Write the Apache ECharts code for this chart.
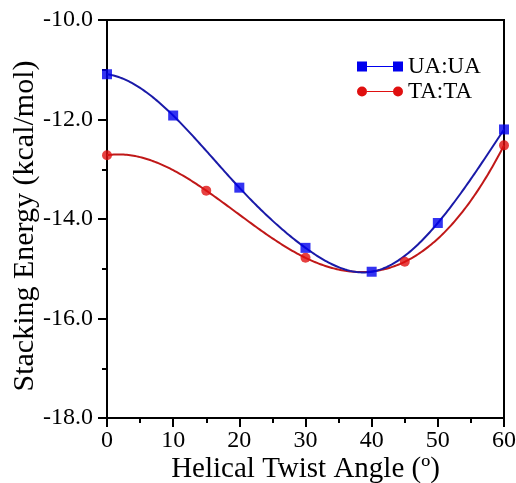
<!DOCTYPE html>
<html>
<head>
<meta charset="utf-8">
<script src="https://cdn.jsdelivr.net/npm/echarts@6/dist/echarts.min.js"></script>
<style>html,body{margin:0;padding:0;background:#fff}#c{width:516px;height:483px}</style>
</head>
<body>
<div id="c"></div>
<script>
const uaX = [0, 10, 20, 30, 40, 50, 60];
const uaY = [-11.09, -11.92, -13.37, -14.58, -15.06, -14.08, -12.20];
const taX = [0, 15, 30, 45, 60];
const taY = [-12.72, -13.43, -14.78, -14.86, -12.52];
const seriesNames = ['UA:UA', 'TA:TA'];
const xTitle = 'Helical Twist Angle (º)';
const yTitle = 'Stacking Energy (kcal/mol)';

const font = 'Liberation Serif, Times New Roman, serif';
const chart = echarts.init(document.getElementById('c'), null, {renderer: 'canvas'});
const zip = (xs, ys) => xs.map((x, i) => [x, ys[i]]);

function solve(A, b) {
  const n = b.length;
  for (let i = 0; i < n; i++) {
    let p = i;
    for (let r = i + 1; r < n; r++) if (Math.abs(A[r][i]) > Math.abs(A[p][i])) p = r;
    [A[i], A[p]] = [A[p], A[i]]; [b[i], b[p]] = [b[p], b[i]];
    for (let r = i + 1; r < n; r++) {
      const f = A[r][i] / A[i][i];
      for (let c = i; c < n; c++) A[r][c] -= f * A[i][c];
      b[r] -= f * b[i];
    }
  }
  const x = new Array(n).fill(0);
  for (let i = n - 1; i >= 0; i--) {
    let s = b[i];
    for (let c = i + 1; c < n; c++) s -= A[i][c] * x[c];
    x[i] = s / A[i][i];
  }
  return x;
}

// not-a-knot cubic spline through the data points (used only to draw the connecting curve)
function splineFn(xs, ys) {
  const n = xs.length, h = [];
  for (let i = 0; i < n - 1; i++) h.push(xs[i + 1] - xs[i]);
  const A = [], b = [];
  for (let i = 0; i < n; i++) { A.push(new Array(n).fill(0)); b.push(0); }
  A[0][0] = h[1]; A[0][1] = -(h[0] + h[1]); A[0][2] = h[0];
  for (let i = 1; i < n - 1; i++) {
    A[i][i - 1] = h[i - 1]; A[i][i] = 2 * (h[i - 1] + h[i]); A[i][i + 1] = h[i];
    b[i] = 6 * ((ys[i + 1] - ys[i]) / h[i] - (ys[i] - ys[i - 1]) / h[i - 1]);
  }
  A[n - 1][n - 3] = h[n - 2]; A[n - 1][n - 2] = -(h[n - 3] + h[n - 2]); A[n - 1][n - 1] = h[n - 3];
  const M = solve(A, b);
  return function (x) {
    let i = 0;
    while (i < n - 2 && x > xs[i + 1]) i++;
    const hi = h[i], a = xs[i + 1] - x, t = x - xs[i];
    return M[i] * a * a * a / (6 * hi) + M[i + 1] * t * t * t / (6 * hi)
      + (ys[i] / hi - M[i] * hi / 6) * a + (ys[i + 1] / hi - M[i + 1] * hi / 6) * t;
  };
}

function curveSeries(name, xs, ys, color, z) {
  const f = splineFn(xs, ys);
  return {
    name: name, type: 'custom', z: z, silent: true,
    data: zip(xs, ys),
    renderItem: function (params, api) {
      if (params.dataIndex !== 0) return null;
      const pts = [];
      const x0 = xs[0], x1 = xs[xs.length - 1], N = 240;
      for (let k = 0; k <= N; k++) {
        const x = x0 + (x1 - x0) * k / N;
        pts.push(api.coord([x, f(x)]));
      }
      return {type: 'polyline', shape: {points: pts}, style: {stroke: color, lineWidth: 2, fill: null}};
    }
  };
}

chart.setOption({
  animation: false,
  backgroundColor: '#fff',
  grid: {left: 107, right: 12, top: 20, bottom: 65, outerBoundsMode: 'none', containLabel: false,
         show: true, borderColor: '#000', borderWidth: 2, backgroundColor: 'transparent'},
  legend: {
    orient: 'vertical', left: 352, top: 50, itemGap: 2, itemWidth: 46, itemHeight: 10,
    textStyle: {fontFamily: font, fontSize: 23, color: '#000'},
    data: [
      {name: seriesNames[0], icon: 'path://M0,0h10v10h-10z M10,4.6h26v0.8h-26z M36,0h10v10h-10z', itemStyle: {color: '#0000ee'}},
      {name: seriesNames[1], icon: 'path://M0,5a5,5 0 1,0 10,0a5,5 0 1,0 -10,0z M10,4.6h26v0.8h-26z M36,5a5,5 0 1,0 10,0a5,5 0 1,0 -10,0z', itemStyle: {color: '#e01010'}}
    ]
  },
  xAxis: {
    type: 'value', min: 0, max: 60, interval: 10,
    name: xTitle, nameLocation: 'middle', nameGap: 37, nameMoveOverlap: false,
    nameTextStyle: {fontFamily: font, fontSize: 29, color: '#000'},
    axisLine: {lineStyle: {color: '#000', width: 2}},
    axisTick: {show: true, inside: false, length: 9, lineStyle: {color: '#000', width: 2}},
    minorTick: {show: true, splitNumber: 2, length: 5, lineStyle: {color: '#000', width: 2}},
    axisLabel: {fontFamily: font, fontSize: 24, color: '#000', margin: 11},
    splitLine: {show: false}
  },
  yAxis: {
    type: 'value', min: -18, max: -10, interval: 2,
    name: yTitle, nameLocation: 'middle', nameGap: 67, nameMoveOverlap: false,
    nameTextStyle: {fontFamily: font, fontSize: 30, color: '#000', padding: [0, 14, 0, 0]},
    axisLine: {show: true, lineStyle: {color: '#000', width: 2}},
    axisTick: {show: true, inside: false, length: 9, lineStyle: {color: '#000', width: 2}},
    minorTick: {show: true, splitNumber: 2, length: 5, lineStyle: {color: '#000', width: 2}},
    axisLabel: {fontFamily: font, fontSize: 24, color: '#000', margin: 14, formatter: v => v.toFixed(1)},
    splitLine: {show: false}
  },
  series: [
    curveSeries(seriesNames[0], uaX, uaY, '#1a1aa8', 3),
    curveSeries(seriesNames[1], taX, taY, '#c01818', 2),
    {
      name: seriesNames[0], type: 'scatter', data: zip(uaX, uaY),
      symbol: 'rect', symbolSize: 10, itemStyle: {color: '#0000ee'}, z: 5
    },
    {
      name: seriesNames[1], type: 'scatter', data: zip(taX, taY),
      symbol: 'circle', symbolSize: 10, itemStyle: {color: '#e01010'}, z: 4
    }
  ]
});
</script>
</body>
</html>
